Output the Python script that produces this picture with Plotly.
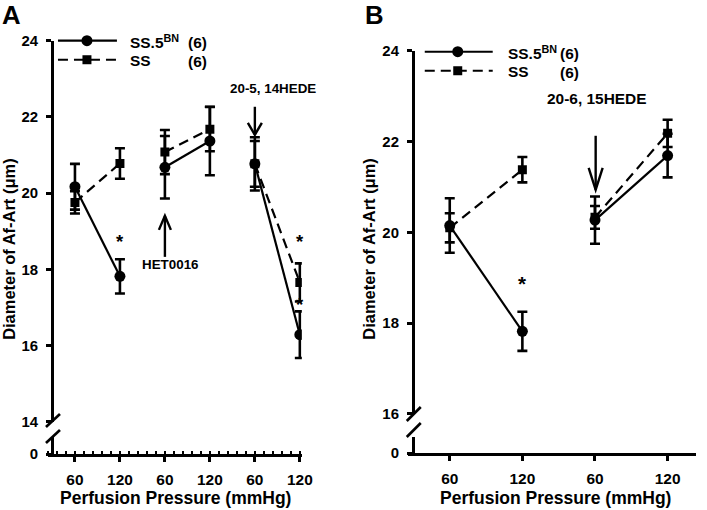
import plotly.graph_objects as go

W, H = 707, 510
# The captured picture is a slightly scaled/shifted view of the page; positions
# below are given in picture pixels and converted to page (paper) units.
SX, SY, OY = 0.985, 0.966, 8.3
FS = 1.03  # font scale to compensate for the capture scaling


def px(x):
    return min(1.0, (x / SX) / W)


def py(y):
    return 1 - ((y - OY) / SY) / H


# ---------------- data ----------------
# Panel A
labels_A = ["60", "120", "60", "120", "60", "120"]
pos_A = [1, 2, 3, 4, 5, 6]
ss5bn_A = [20.17, 17.82, 20.68, 21.37, 20.77, 16.29]
ss5bn_A_err = [0.60, 0.45, 0.82, 0.90, 0.70, 0.61]
ss_A = [19.76, 20.78, 21.08, 21.68, 20.77, 17.66]
ss_A_err = [0.29, 0.40, 0.58, 0.58, 0.60, 0.50]
segments_A = [(0, 1), (2, 3), (4, 5)]
star_x_A = [2, 6, 6]
star_y_A = [18.74, 18.74, 17.08]

# Panel B
labels_B = ["60", "120", "60", "120"]
pos_B = [1, 2, 3, 4]
ss5bn_B = [20.15, 17.82, 20.27, 21.69]
ss5bn_B_err = [0.60, 0.43, 0.52, 0.48]
ss_B = [20.10, 21.38, 20.33, 22.18]
ss_B_err = [0.32, 0.28, 0.25, 0.30]
segments_B = [(0, 1), (2, 3)]
star_x_B = [2]
star_y_B = [18.87]

yticks_A = [14, 16, 18, 20, 22, 24]
yticks_B = [16, 18, 20, 22, 24]

FONT = "Liberation Sans, Arial, sans-serif"
BLACK = "black"
DASH = "10px,6px"

fig = go.Figure()


def add_series(xs, ys, errs, segs, xa, ya, symbol, dash, msize):
    for a, b in segs:
        fig.add_trace(go.Scatter(
            x=[xs[a], xs[b]], y=[ys[a], ys[b]],
            xaxis=xa, yaxis=ya, mode="lines+markers",
            line=dict(color=BLACK, width=2.2, dash=dash),
            marker=dict(symbol=symbol, size=msize, color=BLACK),
            error_y=dict(type="data", array=[errs[a], errs[b]], visible=True,
                         color=BLACK, thickness=2.6, width=5),
            showlegend=False, hoverinfo="skip"))


# Panel A
add_series(pos_A, ss_A, ss_A_err, segments_A, "x", "y", "square", DASH, 9)
add_series(pos_A, ss5bn_A, ss5bn_A_err, segments_A, "x", "y", "circle", "solid", 11)
# Panel B
add_series(pos_B, ss_B, ss_B_err, segments_B, "x2", "y3", "square", DASH, 9)
add_series(pos_B, ss5bn_B, ss5bn_B_err, segments_B, "x2", "y3", "circle", "solid", 11)
# empty traces so the lower (broken) axis pieces exist
fig.add_trace(go.Scatter(x=[None], y=[None], xaxis="x", yaxis="y2", showlegend=False,
                         hoverinfo="skip"))
fig.add_trace(go.Scatter(x=[None], y=[None], xaxis="x2", yaxis="y4", showlegend=False,
                         hoverinfo="skip"))

tickfont = dict(family=FONT, size=14.5 * FS, color=BLACK, weight="bold")
xtickfont = dict(family=FONT, size=15 * FS, color=BLACK, weight="bold")
axis_common = dict(showline=True, linecolor=BLACK, linewidth=2.6, ticks="outside",
                   ticklen=5, tickwidth=2.6, tickcolor=BLACK, showgrid=False,
                   zeroline=False, fixedrange=True)

# picture-pixel geometry
A_x_left, A_x_right = 48, 302          # x-axis line of A
A_x1_pix, A_x6_pix = 75, 300           # positions of first / last category
A_yaxis = 52
A_y24, A_y14 = 40, 421
A_zero, A_low_top = 453, 436

B_x_left, B_x_right = 408, 696
B_x1_pix, B_x4_pix = 450, 668
B_yaxis = 413
B_y24, B_y16 = 50, 413
B_zero, B_low_top = 452, 436

A_unit = (A_x6_pix - A_x1_pix) / (pos_A[-1] - pos_A[0])
A_range = [pos_A[0] - (A_x1_pix - A_x_left) / A_unit, pos_A[-1] + (A_x_right - A_x6_pix) / A_unit]
B_unit = (B_x4_pix - B_x1_pix) / (pos_B[-1] - pos_B[0])
B_range = [pos_B[0] - (B_x1_pix - B_x_left) / B_unit, pos_B[-1] + (B_x_right - B_x4_pix) / B_unit]

fig.update_layout(
    xaxis=dict(domain=[px(A_x_left), px(A_x_right)], range=A_range, anchor="y2",
               tickmode="array", tickvals=pos_A, ticktext=labels_A,
               ticklabelstandoff=5, tickfont=xtickfont,
               minor=dict(ticks="inside", tick0=0, dtick=0.2, ticklen=3,
                          tickwidth=2.2, tickcolor=BLACK),
               **axis_common),
    yaxis=dict(domain=[py(A_y14), py(A_y24)], range=[14, 24], anchor="free",
               position=px(A_yaxis), tickmode="array", tickvals=yticks_A,
               ticklabelstandoff=5, tickfont=tickfont, **axis_common),
    yaxis2=dict(domain=[py(A_zero), py(A_low_top)], range=[0, 1], anchor="free",
                position=px(A_yaxis), tickmode="array", tickvals=[0], ticktext=["0"],
                ticklabelstandoff=5, tickfont=tickfont, **axis_common),
    xaxis2=dict(domain=[px(B_x_left), px(B_x_right)], range=B_range, anchor="y4",
                tickmode="array", tickvals=pos_B, ticktext=labels_B,
                ticklabelstandoff=5, tickfont=xtickfont, **axis_common),
    yaxis3=dict(domain=[py(B_y16), py(B_y24)], range=[16, 24], anchor="free",
                position=px(B_yaxis), tickmode="array", tickvals=yticks_B,
                ticklabelstandoff=5, tickfont=tickfont, **axis_common),
    yaxis4=dict(domain=[py(B_zero), py(B_low_top)], range=[0, 1], anchor="free",
                position=px(B_yaxis), tickmode="array", tickvals=[0], ticktext=["0"],
                ticklabelstandoff=5, tickfont=tickfont, **axis_common),
)

shapes = []
annotations = []


def seg(x0, y0, x1, y1, w=2.6, dash="solid"):
    shapes.append(dict(type="line", xref="paper", yref="paper",
                       x0=px(x0), y0=py(y0), x1=px(x1), y1=py(y1),
                       line=dict(color=BLACK, width=w, dash=dash)))


# axis breaks
seg(46, 426, 60, 413)
seg(46, 442, 60, 429)
seg(407, 420, 421, 406)
seg(407, 436, 421, 422)


def text(x, y, s, size=14, xanchor="center", angle=0):
    annotations.append(dict(x=px(x), y=py(y), xref="paper", yref="paper", text=s,
                            showarrow=False, xanchor=xanchor, yanchor="middle",
                            textangle=angle, borderpad=0,
                            font=dict(family=FONT, size=size * FS, color=BLACK,
                                      weight="bold")))


# legends
def legend(x0, x1, xm, yc, ys, xt, x6):
    seg(x0, yc, x1, yc, 2.2)
    seg(x0, ys, x1, ys, 2.2, DASH)
    shapes.append(dict(type="circle", xref="paper", yref="paper", x0=px(xm - 5.5), x1=px(xm + 5.5),
                       y0=py(yc + 5.5), y1=py(yc - 5.5), fillcolor=BLACK, line=dict(width=0)))
    shapes.append(dict(type="rect", xref="paper", yref="paper", x0=px(xm - 4.5), x1=px(xm + 4.5),
                       y0=py(ys + 4.5), y1=py(ys - 4.5), fillcolor=BLACK, line=dict(width=0)))
    text(xt, yc + 1, "SS.5<sup>BN</sup>", 15, "left")
    text(x6, yc + 2, "(6)", 15, "left")
    text(xt, ys + 1, "SS", 15, "left")
    text(x6, ys + 2, "(6)", 15, "left")


legend(58, 117, 87, 40, 59, 129, 187)
legend(425, 493, 458, 51, 70, 507, 559)

# panel letters
text(12, 14, "A", 25)
text(375, 14, "B", 25)

# axis titles
text(9, 248, "Diameter of Af-Art (\u03bcm)", 16, angle=-90)
text(369, 248, "Diameter of Af-Art (\u03bcm)", 16, angle=-90)
text(176, 497, "Perfusion Pressure (mmHg)", 17)
text(556, 497, "Perfusion Pressure (mmHg)", 17)

# asterisks
for sx, sy in zip(star_x_A, star_y_A):
    annotations.append(dict(x=sx, y=sy, xref="x", yref="y", text="*", showarrow=False,
                            yanchor="middle", font=dict(family=FONT, size=18 * FS, color=BLACK,
                                                        weight="bold")))
for sx, sy in zip(star_x_B, star_y_B):
    annotations.append(dict(x=sx, y=sy, xref="x2", yref="y3", text="*", showarrow=False,
                            yanchor="middle", font=dict(family=FONT, size=20 * FS, color=BLACK,
                                                        weight="bold")))


# arrows drawn as shapes: shaft + open V head
def arrow(x, tail, tip, hw=6, hl=12):
    seg(x, tail, x, tip, 2.4)
    d = 1 if tail > tip else -1  # head opens towards the tail
    path = "M {},{} L {},{} L {},{}".format(
        px(x - hw), py(tip + d * hl), px(x), py(tip), px(x + hw), py(tip + d * hl))
    shapes.append(dict(type="path", xref="paper", yref="paper", path=path,
                       line=dict(color=BLACK, width=2.4)))


arrow(165, 256, 215, 6, 14)
text(171, 264, "HET0016", 13)
arrow(255, 106, 134, 7, 12)
text(273, 88, "20-5, 14HEDE", 13)
arrow(596, 135, 189, 7, 22)
text(597, 98, "20-6, 15HEDE", 15)

fig.update_layout(
    width=W, height=H, margin=dict(l=0, r=0, t=0, b=0),
    paper_bgcolor="white", plot_bgcolor="white",
    shapes=shapes, annotations=annotations, showlegend=False,
)

fig.write_html("out.html", config={"displayModeBar": False},
               post_script="document.body.style.margin='0px';"
                           "document.body.style.overflow='hidden';")
